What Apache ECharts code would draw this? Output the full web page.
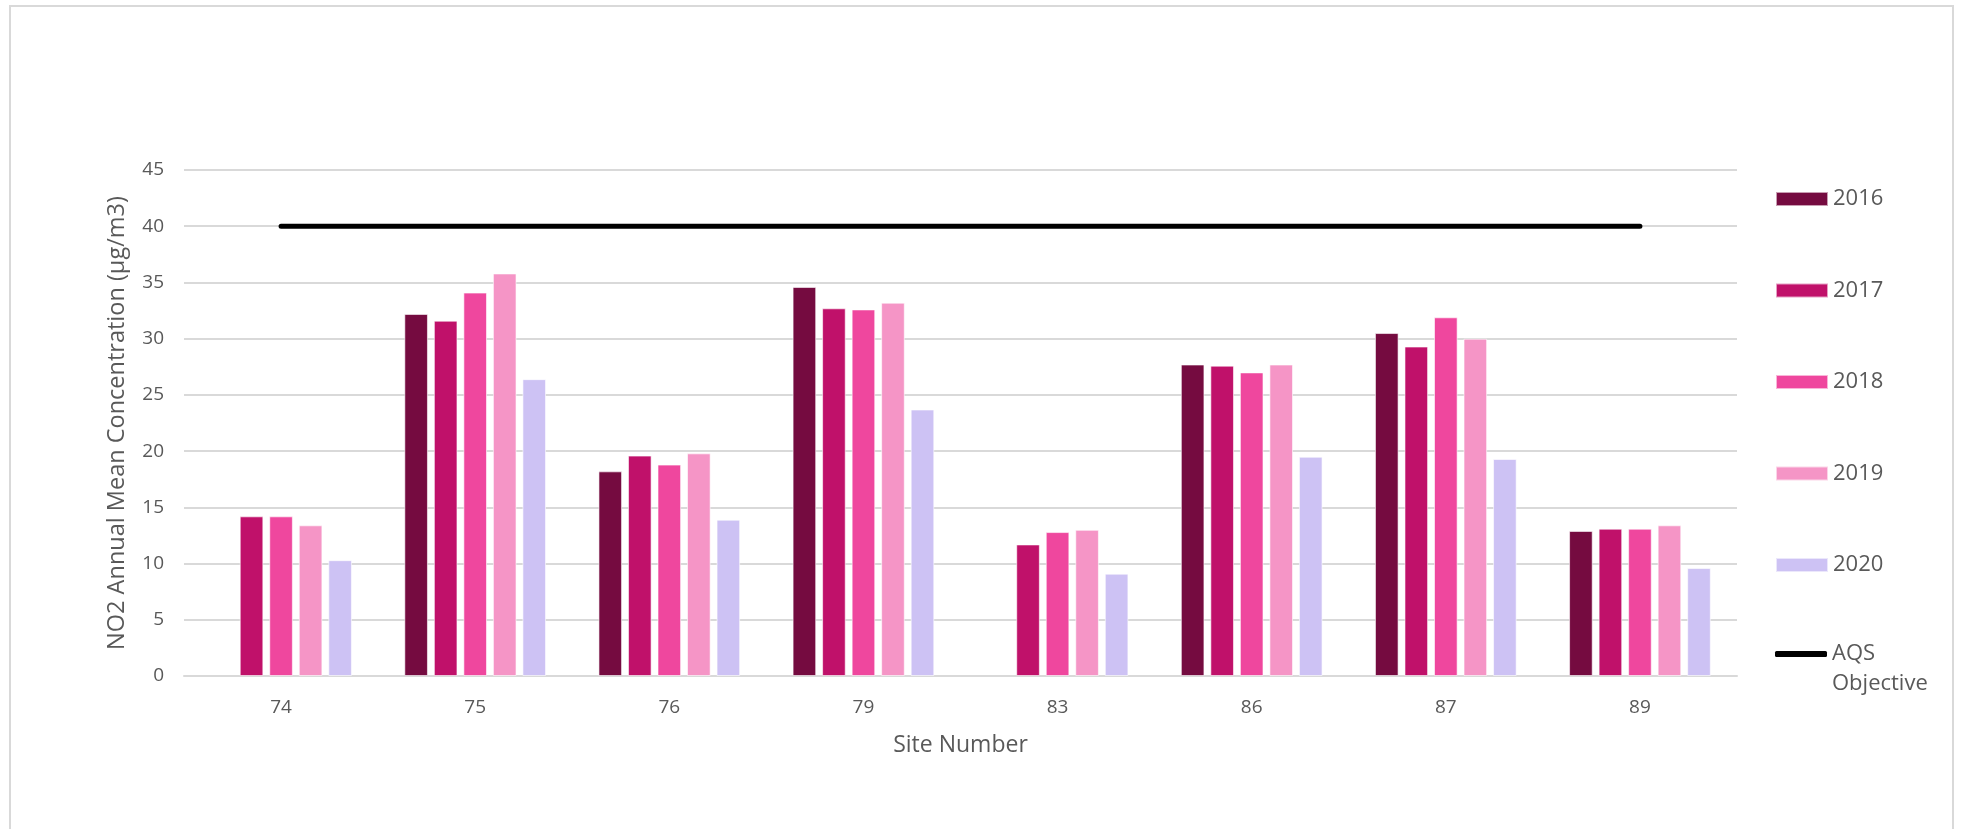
<!DOCTYPE html>
<html>
<head>
<meta charset="utf-8">
<script src="https://cdn.jsdelivr.net/npm/echarts@6/dist/echarts.min.js"></script>
<style>
html,body{margin:0;padding:0;background:#fff;}
#chart{width:1963px;height:829px;}
</style>
</head>
<body>
<div id="chart"></div>
<script>
const sites = ['74', '75', '76', '79', '83', '86', '87', '89'];
const yearNames = ['2016', '2017', '2018', '2019', '2020'];
const v2016 = [null, 32.2, 18.2, 34.6, null, 27.7, 30.5, 12.9];
const v2017 = [14.2, 31.6, 19.6, 32.7, 11.7, 27.6, 29.3, 13.1];
const v2018 = [14.2, 34.1, 18.8, 32.6, 12.8, 27.0, 31.9, 13.1];
const v2019 = [13.4, 35.8, 19.8, 33.2, 13.0, 27.7, 30.0, 13.4];
const v2020 = [10.3, 26.4, 13.9, 23.7, 9.1, 19.5, 19.3, 9.6];
const aqsObjective = [40, 40, 40, 40, 40, 40, 40, 40];
const yearColors = ['#750B40', '#C0116A', '#EF479E', '#F595C6', '#CDC2F4'];

const yearValues = [v2016, v2017, v2018, v2019, v2020];
const FONT = '"Open Sans", "Liberation Sans", sans-serif';
const TXT = '#595959';

const barSeries = yearNames.map((n, i) => ({
  name: n,
  type: 'bar',
  data: yearValues[i],
  barGap: '25%',
  barCategoryGap: '27%',
  itemStyle: { color: yearColors[i], borderColor: 'rgba(255,255,255,0.6)', borderWidth: 1 }
}));

const chart = echarts.init(document.getElementById('chart'), null, { renderer: 'canvas' });
chart.setOption({
  animation: false,
  backgroundColor: '#fff',
  textStyle: { fontFamily: FONT },
  graphic: [{
    type: 'rect',
    shape: { x: 10, y: 6, width: 1943, height: 900 },
    style: { fill: 'none', stroke: '#d9d9d9', lineWidth: 2 },
    silent: true
  }],
  grid: { left: 184, right: 226, top: 170, bottom: 153 },
  legend: [{
    orient: 'vertical',
    left: 1775,
    top: 188,
    padding: 0,
    itemWidth: 52,
    itemHeight: 14,
    itemGap: 69.5,
    data: yearNames,
    icon: 'rect',
    textStyle: { color: TXT, fontSize: 22, lineHeight: 22, fontFamily: FONT }
  }, {
    orient: 'vertical',
    left: 1775,
    top: 609,
    padding: 0,
    itemWidth: 52,
    itemHeight: 6,
    data: [{ name: 'AQS Objective', icon: 'roundRect', itemStyle: { color: '#000' } }],
    formatter: function () { return ' \nAQS\nObjective'; },
    textStyle: { color: TXT, fontSize: 22, lineHeight: 30, fontFamily: FONT }
  }],
  xAxis: {
    type: 'category',
    data: sites,
    name: 'Site Number',
    nameLocation: 'middle',
    nameGap: 58,
    nameTextStyle: { color: TXT, fontSize: 23, fontFamily: FONT },
    axisTick: { show: false },
    axisLine: { lineStyle: { color: '#d9d9d9', width: 2 } },
    axisLabel: { color: TXT, fontSize: 19, margin: 22, fontFamily: FONT }
  },
  yAxis: {
    type: 'value',
    min: 0,
    max: 45,
    interval: 5,
    name: 'NO2 Annual Mean Concentration (µg/m3)',
    nameLocation: 'middle',
    nameGap: 55,
    nameTextStyle: { color: TXT, fontSize: 23.5, fontFamily: FONT },
    axisLine: { show: false },
    axisTick: { show: false },
    axisLabel: { color: TXT, fontSize: 19, margin: 20, fontFamily: FONT },
    splitLine: { lineStyle: { color: '#d9d9d9', width: 2 } }
  },
  series: barSeries.concat([{
    name: 'AQS Objective',
    type: 'line',
    data: aqsObjective,
    symbol: 'none',
    z: 5,
    itemStyle: { color: '#000' },
    lineStyle: { color: '#000', width: 5, cap: 'round' }
  }])
});
</script>
</body>
</html>
